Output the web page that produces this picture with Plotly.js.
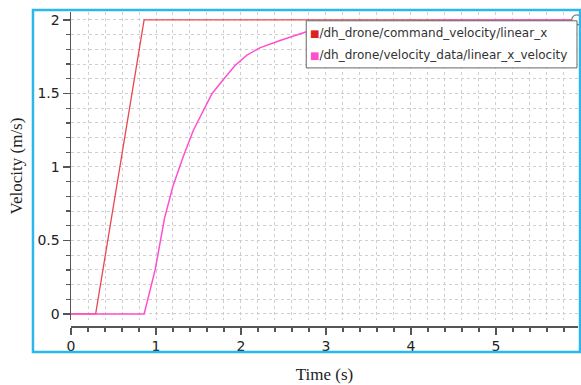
<!DOCTYPE html>
<html><head><meta charset="utf-8">
<script src="https://cdn.plot.ly/plotly-3.0.1.min.js"></script>
<style>html,body{margin:0;padding:0;background:#fff}#c{width:581px;height:385px}</style>
</head><body><div id="c"></div>
<script>
const seriesNames = ['/dh_drone/command_velocity/linear_x', '/dh_drone/velocity_data/linear_x_velocity'];
const cmdTime = [0, 0.29, 0.86, 5.95];
const cmdVel  = [0, 0, 2.0, 2.0];
const velTime = [0, 0.86, 0.99, 1.05, 1.1, 1.2, 1.32, 1.44, 1.55, 1.66, 1.8, 1.93, 2.07, 2.22, 2.46, 2.77, 3.05, 3.4, 3.8, 4.3, 5.0, 5.95];
const velVal  = [0, 0, 0.30, 0.50, 0.65, 0.87, 1.07, 1.25, 1.38, 1.50, 1.60, 1.69, 1.76, 1.81, 1.86, 1.92, 1.955, 1.975, 1.99, 1.997, 2.0, 2.0];
const xTicks = [0, 1, 2, 3, 4, 5];
const yTicks = [0, 0.5, 1, 1.5, 2];
const yTickText = ['0', '0.5', '1', '1.5', '2'];

const redC = '#e8474f', pinkC = '#ff4fd0';
const traces = [
  {x: cmdTime, y: cmdVel, mode: 'lines', line: {color: redC, width: 1.3}, showlegend: false, hoverinfo: 'skip'},
  {x: velTime, y: velVal, mode: 'lines', line: {color: pinkC, width: 1.5}, showlegend: false, hoverinfo: 'skip'},
  {x: [cmdTime[cmdTime.length-1]], y: [cmdVel[cmdVel.length-1]], mode: 'markers', cliponaxis: false,
   marker: {size: 10, color: '#fff', line: {color: '#777', width: 1.2}}, showlegend: false, hoverinfo: 'skip'}
];
const axFont = {family: 'DejaVu Sans, sans-serif', size: 14, color: '#222'};
const layout = {
  width: 581, height: 385,
  margin: {l: 71, r: 3, t: 12, b: 59},
  paper_bgcolor: '#fff', plot_bgcolor: '#fff',
  showlegend: false,
  xaxis: {
    range: [0, 5.965], anchor: 'free', position: 0,
    tickvals: xTicks, ticktext: xTicks.map(String),
    ticks: 'outside', ticklen: 7, tickcolor: '#555', tickwidth: 1.3,
    showline: true, linecolor: '#555', linewidth: 1.5,
    showgrid: true, gridcolor: '#cfcfcf', griddash: 'dot', gridwidth: 1,
    minor: {dtick: 0.2, ticks: 'outside', ticklen: 4, tickcolor: '#555', showgrid: true, gridcolor: '#cfcfcf', griddash: 'dot', gridwidth: 1},
    zeroline: false, tickfont: axFont,
    title: {text: 'Time (s)', font: {family: 'Liberation Serif, serif', size: 17, color: '#222'}, standoff: 15}
  },
  yaxis: {
    domain: [6/314, 1],
    range: [-0.041, 2.054],
    tickvals: yTicks, ticktext: yTickText,
    ticks: 'outside', ticklen: 7, tickcolor: '#555', tickwidth: 1.3,
    showline: true, linecolor: '#555', linewidth: 1.5,
    showgrid: true, gridcolor: '#cfcfcf', griddash: 'dot', gridwidth: 1,
    minor: {dtick: 0.1, ticks: 'outside', ticklen: 4, tickcolor: '#555', showgrid: true, gridcolor: '#cfcfcf', griddash: 'dot', gridwidth: 1},
    zeroline: false, tickfont: axFont,
    title: {text: 'Velocity (m/s)', font: {family: 'Liberation Serif, serif', size: 17, color: '#222'}, standoff: 10}
  },
  shapes: [
    {type: 'rect', xref: 'paper', yref: 'paper', x0: -0.075, x1: 1.004, y0: -0.083, y1: 1.006,
     line: {color: '#2bb7ea', width: 2.5}, fillcolor: 'rgba(0,0,0,0)', layer: 'above'},
    {type: 'rect', xref: 'paper', yref: 'paper', x0: 0.464, x1: 0.998, y0: 0.822, y1: 0.972,
     line: {color: '#666', width: 1}, fillcolor: '#fff', layer: 'above'}
  ],
  annotations: [
    {xref: 'paper', yref: 'paper', x: 0.467, y: 0.933, xanchor: 'left', yanchor: 'middle', showarrow: false,
     text: '<span style="color:#dd2020;font-size:10px">■</span>' + seriesNames[0], font: {family: 'DejaVu Sans, sans-serif', size: 12, color: '#333'}},
    {xref: 'paper', yref: 'paper', x: 0.467, y: 0.863, xanchor: 'left', yanchor: 'middle', showarrow: false,
     text: '<span style="color:' + pinkC + ';font-size:10px">■</span>' + seriesNames[1], font: {family: 'DejaVu Sans, sans-serif', size: 12, color: '#333'}}
  ]
};
Plotly.newPlot('c', traces, layout, {staticPlot: true, displayModeBar: false});
</script></body></html>
